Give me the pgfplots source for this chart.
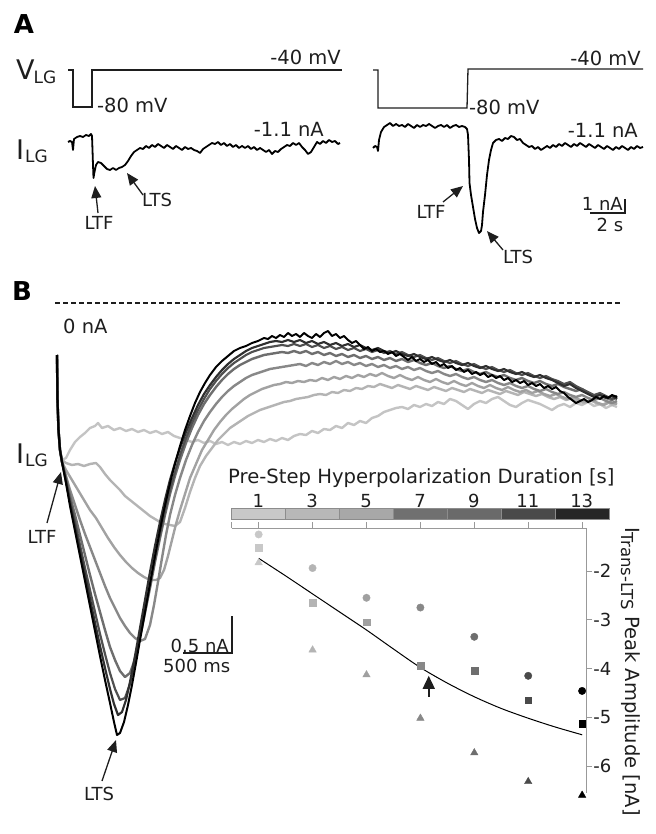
\documentclass[border=0pt]{standalone}
\usepackage{pgfplots}
\pgfplotsset{compat=1.18}
\usepackage{fontspec}
\setmainfont{DejaVu Sans}
\usetikzlibrary{arrows.meta}
\definecolor{tA}{HTML}{C4C4C4}
\definecolor{tB}{HTML}{B4B4B4}
\definecolor{tC}{HTML}{A2A2A2}
\definecolor{tD}{HTML}{888888}
\definecolor{tE}{HTML}{6E6E6E}
\definecolor{tF}{HTML}{505050}
\definecolor{tG}{HTML}{303030}
\definecolor{cbA}{HTML}{C8C8C8}
\definecolor{cbB}{HTML}{B8B8B8}
\definecolor{cbC}{HTML}{A8A8A8}
\definecolor{cbD}{HTML}{707070}
\definecolor{cbE}{HTML}{6A6A6A}
\definecolor{cbF}{HTML}{4A4A4A}
\definecolor{cbG}{HTML}{262626}
\definecolor{mA}{HTML}{C8C8C8}
\definecolor{mB}{HTML}{B4B4B4}
\definecolor{mC}{HTML}{A0A0A0}
\definecolor{mD}{HTML}{888888}
\definecolor{mE}{HTML}{6E6E6E}
\definecolor{mF}{HTML}{4A4A4A}
\definecolor{mG}{HTML}{000000}
\definecolor{txt}{HTML}{1E1E1E}
\newcommand{\fl}{\fontsize{19.5}{23}\selectfont}
\newcommand{\fsm}{\fontsize{18}{21}\selectfont}
\newcommand{\fsub}{\fontsize{17}{20}\selectfont}
\newcommand{\fbig}{\fontsize{27}{30}\selectfont}
\newcommand{\fpan}{\fontsize{26}{30}\selectfont\bfseries}
\tikzset{arr/.style={line width=1.3pt, color=txt, -{Triangle[length=12pt,width=10pt]}}}
\begin{document}
\begin{tikzpicture}
\begin{axis}[at={(0pt,0pt)},anchor=south west,scale only axis,width=655pt,height=834pt,
  xmin=0,xmax=655,ymin=0,ymax=834,y dir=reverse,hide axis,clip=false]
\addplot[draw=none] coordinates {(0,0)(655,834)};
% ---------------- Panel A ----------------
\node[anchor=center,text=black] at (axis cs:24,24) {\fpan A};
\node[anchor=base west,inner sep=0,text=txt] at (axis cs:16,80) {{\fbig V}\kern-1pt\raisebox{-4pt}{\fsub LG}};
\node[anchor=base west,inner sep=0,text=txt] at (axis cs:16,160) {{\fbig I}\kern1pt\raisebox{-3pt}{\fsub LG}};
% voltage traces
\addplot[color=txt,line width=1.3pt] coordinates {(68,70)(73,70)(73,107)(92,107)(92,70)(342,70)};
\addplot[color=txt,line width=1.3pt] coordinates {(373,70)(378,70)(378,108)(467,108)(468,69)(643,69)};
\node[anchor=base east,inner sep=0,text=txt] at (axis cs:341,65) {\fl -40 mV};
\node[anchor=base east,inner sep=0,text=txt] at (axis cs:641,66) {\fl -40 mV};
\node[anchor=base west,inner sep=0,text=txt] at (axis cs:97,113) {\fl -80 mV};
\node[anchor=base west,inner sep=0,text=txt] at (axis cs:469,115) {\fl -80 mV};
% current traces
\addplot[color=black,line width=1.8pt,line join=round] coordinates {
(68,142)(70,141)(72,142)(73,150)(74,139)(77,137)(80,136)(83,137)(86,135)(89,136)(91,134)(92,136)(92.5,150)(93,165)(93.5,178)(94.5,172)(96,165)(98,162)(101,163)(104,166)(107,169)(110,170)(113,168)(116,170)(119,168)(122,167)(125,165)(128,161)(131,156)(134,152)(137,150)(140,148)(143,149)(146,146)(149,148)(152,145)(155,147)(158,144)(161,146)(164,148)(167,145)(170,147)(173,149)(176,146)(179,148)(182,150)(185,147)(188,149)(191,148)(194,150)(197,151)(200,153)(203,149)(206,147)(209,145)(212,143)(215,144)(218,142)(221,145)(224,143)(227,146)(230,144)(233,147)(236,145)(239,148)(242,146)(245,148)(248,146)(251,149)(254,147)(257,150)(260,148)(263,150)(266,152)(269,150)(272,154)(275,151)(278,152)(281,149)(284,147)(287,145)(290,146)(293,143)(296,145)(299,143)(302,147)(305,150)(308,154)(311,152)(314,147)(317,142)(320,144)(323,141)(326,143)(329,140)(332,142)(335,141)(338,144)(340,143)};
\addplot[color=black,line width=1.8pt,line join=round] coordinates {
(373,148)(375,146)(377,147)(378,151)(379,140)(381,132)(384,127)(387,125)(390,123)(393,126)(396,124)(399,126)(402,125)(405,127)(408,124)(411,126)(414,128)(417,125)(420,127)(423,125)(426,126)(429,124)(432,126)(435,128)(438,126)(441,125)(444,127)(447,125)(450,128)(453,126)(456,125)(459,127)(462,126)(465,127)(467,129)(468,135)(469,160)(469.5,183)(471,195)(473,207)(475,219)(477,228)(479,233)(481,231)(482,225)(483,212)(485,195)(487,175)(489,160)(491,150)(493,143)(496,140)(499,139)(502,141)(505,138)(508,139)(511,136)(514,137)(517,140)(520,139)(523,143)(526,145)(529,147)(532,146)(535,149)(538,147)(541,150)(544,148)(547,146)(550,148)(553,145)(556,147)(559,144)(562,146)(565,143)(568,145)(571,147)(574,144)(577,146)(580,143)(583,145)(586,147)(589,144)(592,146)(595,148)(598,145)(601,147)(604,149)(607,146)(610,148)(613,150)(616,147)(619,149)(622,146)(625,148)(628,150)(631,147)(634,149)(637,146)(640,148)(643,147)};
\node[anchor=base east,inner sep=0,text=txt] at (axis cs:324,137) {\fl -1.1 nA};
\node[anchor=base east,inner sep=0,text=txt] at (axis cs:638,138) {\fl -1.1 nA};
\draw[arr] (axis cs:98,213) -- (axis cs:95,186);
\node[text=txt] at (axis cs:99,223) {\fsm LTF};
\draw[arr] (axis cs:143,195) -- (axis cs:127,173);
\node[text=txt] at (axis cs:157,200) {\fsm LTS};
\draw[arr] (axis cs:443,202) -- (axis cs:463,186);
\node[text=txt] at (axis cs:431,212) {\fsm LTF};
\draw[arr] (axis cs:503,250) -- (axis cs:487,231);
\node[text=txt] at (axis cs:518,257) {\fsm LTS};
% scale bar A
\draw[color=txt,line width=1.5pt] (axis cs:590,213) -- (axis cs:625,213) -- (axis cs:625,199);
\node[anchor=base east,inner sep=0,text=txt] at (axis cs:623,211) {\fsm 1 nA};
\node[text=txt] at (axis cs:610,225) {\fsm 2 s};
% ---------------- Panel B ----------------
\node[anchor=center,text=black] at (axis cs:22,291) {\fpan B};
\addplot[color=txt,line width=1.6pt,dash pattern=on 5pt off 3pt] coordinates {(55,303)(620,303)};
\node[anchor=base west,inner sep=0,text=txt] at (axis cs:63,333) {\fl 0 nA};
\node[anchor=base west,inner sep=0,text=txt] at (axis cs:16,463) {{\fbig I}\kern1pt\raisebox{-3pt}{\fsub LG}};
% T1
\addplot[color=tA,line width=2.4pt,line join=round] coordinates {
(57,355)(57.5,400)(58.5,430)(60,450)(62,460)(66,458)(70,450)(75,442)(80,437)(85,433)(90,428)(95,426)(98,423)(102,428)(108,426)(114,430)(120,428)(126,431)(132,429)(138,432)(144,430)(150,433)(156,431)(162,434)(168,432)(174,436)(180,438)(186,440)(192,442)(198,440)(204,443)(210,441)(216,444)(222,442)(228,445)(234,442)(240,444)(246,441)(252,443)(258,440)(264,442)(270,439)(276,441)(282,438)(288,440)(294,436)(300,434)(306,435)(312,431)(318,433)(324,429)(330,430)(336,426)(342,428)(348,423)(354,425)(360,421)(366,423)(372,418)(378,416)(384,412)(390,410)(396,408)(402,407)(408,409)(414,405)(420,407)(426,404)(432,406)(438,402)(444,404)(450,399)(456,401)(462,405)(468,409)(474,404)(480,401)(486,403)(492,399)(498,397)(504,401)(510,405)(516,407)(522,403)(528,400)(534,402)(540,404)(546,407)(552,410)(558,406)(564,404)(570,407)(576,403)(582,405)(588,402)(594,406)(600,404)(606,408)(612,405)(617,407)};
% T2
\addplot[color=tB,line width=2.4pt,line join=round] coordinates {
(57,355)(57.5,400)(58.5,430)(60,450)(62,460)(66,463)(72,465)(78,464)(84,466)(90,464)(96,463)(100,467)(105,474)(110,480)(115,485)(120,490)(125,496)(130,500)(135,504)(140,508)(145,512)(150,516)(155,519)(160,522)(165,524)(170,525)(175,526)(180,522)(185,508)(190,492)(195,478)(200,466)(206,456)(212,448)(218,440)(224,434)(230,428)(236,424)(242,420)(248,416)(254,413)(260,410)(266,408)(272,406)(278,404)(284,402)(290,401)(296,399)(302,398)(308,397)(314,395)(320,394)(326,395)(332,392)(338,393)(344,390)(350,391)(356,388)(362,389)(368,386)(374,387)(380,384)(386,386)(392,388)(398,385)(404,387)(410,389)(416,386)(422,388)(428,390)(434,387)(440,389)(446,391)(452,388)(458,390)(464,392)(470,389)(476,391)(482,393)(488,390)(494,392)(500,394)(506,391)(512,393)(518,395)(524,392)(530,394)(536,396)(542,394)(548,397)(554,399)(560,397)(566,400)(572,398)(578,401)(584,403)(590,400)(596,403)(602,405)(608,402)(612,405)(617,403)};
% T3
\addplot[color=tC,line width=2.4pt,line join=round] coordinates {
(57,355)(57.5,400)(58.5,430)(60,450)(62,462)(66,470)(72,480)(78,490)(84,500)(90,510)(96,518)(102,528)(108,538)(114,547)(120,555)(126,562)(132,568)(138,573)(144,577)(150,580)(156,580)(160,578)(164,570)(168,556)(172,540)(176,524)(180,510)(185,494)(190,478)(196,464)(202,450)(208,440)(214,430)(220,422)(226,415)(232,409)(238,404)(244,399)(250,395)(256,392)(262,389)(268,387)(274,385)(280,384)(286,382)(292,383)(298,381)(304,382)(310,380)(316,381)(322,378)(328,380)(334,377)(340,379)(346,376)(352,378)(358,375)(364,377)(370,374)(376,376)(382,373)(388,376)(394,378)(400,375)(406,378)(412,380)(418,377)(424,380)(430,382)(436,379)(442,382)(448,384)(454,381)(460,384)(466,386)(472,383)(478,386)(484,388)(490,385)(496,388)(502,390)(508,387)(514,390)(520,392)(526,390)(532,393)(538,391)(544,394)(550,396)(556,394)(562,397)(568,399)(574,397)(580,400)(586,402)(592,400)(598,403)(604,405)(610,402)(617,404)};
% T4
\addplot[color=tD,line width=2.4pt,line join=round] coordinates {
(57,355)(57.5,400)(58.5,430)(60,450)(62,462)(66,476)(70,490)(75,505)(80,520)(85,534)(90,547)(95,560)(100,573)(105,586)(110,598)(115,608)(120,618)(125,626)(130,633)(135,638)(140,641)(145,639)(150,625)(154,605)(158,582)(162,558)(166,535)(170,515)(175,495)(180,478)(186,460)(192,445)(198,432)(204,421)(210,412)(216,404)(222,397)(228,391)(234,386)(240,382)(246,378)(252,375)(258,373)(264,371)(270,369)(276,368)(282,367)(288,366)(294,365)(300,364)(306,366)(312,363)(318,365)(324,362)(330,364)(336,361)(342,364)(348,362)(354,365)(360,363)(366,366)(372,364)(378,367)(384,365)(390,368)(396,366)(402,369)(408,367)(414,370)(420,368)(426,371)(432,373)(438,371)(444,374)(450,376)(456,374)(462,377)(468,379)(474,377)(480,380)(486,382)(492,380)(498,383)(504,385)(510,383)(516,386)(522,388)(528,386)(534,389)(540,391)(546,389)(552,392)(558,394)(564,392)(570,395)(576,397)(582,395)(588,398)(594,400)(600,398)(606,401)(612,403)(617,401)};
% T5
\addplot[color=tE,line width=2.4pt,line join=round] coordinates {
(57,355)(57.5,400)(58.5,430)(60,450)(62,462)(66,478)(70,496)(75,515)(80,535)(85,555)(90,575)(95,594)(100,612)(105,630)(110,647)(115,660)(120,671)(125,677)(130,673)(134,662)(138,646)(142,628)(146,608)(150,588)(155,562)(160,538)(165,515)(170,494)(175,476)(180,460)(186,443)(192,428)(198,415)(204,404)(210,395)(216,387)(222,380)(228,374)(234,369)(240,365)(246,362)(252,359)(258,357)(264,355)(270,354)(276,353)(282,352)(288,353)(294,351)(300,353)(306,351)(312,354)(318,352)(324,355)(330,353)(336,356)(342,354)(348,357)(354,355)(360,358)(366,356)(372,359)(378,357)(384,360)(390,358)(396,361)(402,359)(408,362)(414,360)(420,363)(426,365)(432,363)(438,366)(444,368)(450,366)(456,369)(462,371)(468,369)(474,372)(480,374)(486,372)(492,375)(498,377)(504,375)(510,378)(516,380)(522,378)(528,381)(534,383)(540,381)(546,384)(552,386)(558,384)(564,387)(570,389)(576,391)(582,389)(588,393)(594,396)(600,394)(606,398)(612,400)(617,397)};
% T6
\addplot[color=tF,line width=2.2pt,line join=round] coordinates {
(57,355)(57.5,400)(58.5,430)(60,450)(62,462)(66,480)(70,500)(75,522)(80,545)(85,568)(90,590)(95,612)(100,634)(105,654)(110,673)(115,689)(120,700)(125,698)(130,684)(135,662)(140,636)(145,610)(150,584)(155,558)(160,534)(165,511)(170,490)(175,472)(180,455)(186,438)(192,423)(198,410)(204,399)(210,389)(216,381)(222,374)(228,368)(234,363)(240,359)(246,355)(252,352)(258,350)(264,348)(270,347)(276,346)(282,345)(288,346)(294,344)(300,346)(306,344)(312,347)(318,345)(324,348)(330,346)(336,349)(342,347)(348,350)(354,348)(360,351)(366,349)(372,352)(378,350)(384,353)(390,351)(396,354)(402,352)(408,355)(414,357)(420,355)(426,358)(432,360)(438,358)(444,361)(450,363)(456,361)(462,364)(468,366)(474,364)(480,367)(486,369)(492,367)(498,370)(504,372)(510,370)(516,373)(522,375)(528,373)(534,376)(540,378)(546,376)(552,379)(558,381)(564,384)(570,382)(576,386)(582,389)(588,392)(594,395)(600,393)(606,396)(612,399)(617,396)};
% T7
\addplot[color=tG,line width=2.2pt,line join=round] coordinates {
(57,355)(57.5,400)(58.5,430)(60,450)(62,462)(66,482)(70,503)(75,527)(80,551)(85,575)(90,599)(95,623)(100,646)(105,668)(110,689)(114,704)(118,715)(122,712)(126,700)(130,682)(135,656)(140,628)(145,600)(150,572)(155,546)(160,522)(165,500)(170,480)(175,463)(180,448)(186,432)(192,418)(198,405)(204,394)(210,385)(216,377)(222,370)(228,364)(234,359)(240,355)(246,351)(252,348)(258,346)(264,344)(270,342)(276,341)(282,342)(288,340)(294,342)(300,340)(306,343)(312,341)(318,344)(324,342)(330,345)(336,343)(342,346)(348,344)(354,347)(360,345)(366,348)(372,350)(378,348)(384,351)(390,353)(396,351)(402,354)(408,356)(414,354)(420,357)(426,359)(432,357)(438,360)(444,362)(450,360)(456,363)(462,365)(468,363)(474,366)(480,368)(486,366)(492,369)(498,371)(504,369)(510,372)(516,374)(522,372)(528,375)(534,377)(540,375)(546,378)(552,380)(558,383)(564,386)(570,384)(576,388)(582,391)(588,394)(594,397)(600,395)(606,398)(612,396)(617,399)};
% T8
\addplot[color=black,line width=2.0pt,line join=round] coordinates {
(57,355)(57.5,400)(58.5,430)(60,450)(62,462)(66,483)(70,506)(75,531)(80,556)(85,581)(90,606)(95,631)(100,656)(105,680)(110,703)(114,722)(117,735)(120,733)(124,722)(128,705)(132,685)(136,663)(140,640)(145,612)(150,584)(155,556)(160,530)(164,510)(168,492)(172,475)(176,460)(180,446)(185,430)(190,416)(195,403)(200,392)(205,383)(210,375)(216,367)(222,361)(228,356)(234,351)(240,348)(246,346)(252,343)(258,341)(264,338)(268,339)(272,336)(276,338)(280,335)(284,337)(288,333)(292,336)(296,334)(300,337)(304,333)(308,336)(312,338)(316,334)(320,337)(324,333)(328,331)(332,336)(336,334)(340,338)(344,336)(348,340)(352,343)(356,341)(360,345)(364,349)(368,347)(372,351)(376,349)(380,352)(384,351)(388,354)(392,352)(396,356)(400,354)(404,357)(408,360)(412,357)(416,361)(420,359)(424,362)(428,360)(432,364)(436,362)(440,366)(444,364)(448,368)(452,366)(456,370)(460,368)(464,372)(468,370)(472,374)(476,372)(480,375)(484,373)(488,377)(492,375)(496,378)(500,376)(504,380)(508,378)(512,382)(516,380)(520,383)(524,381)(528,385)(532,383)(536,386)(540,384)(544,388)(548,386)(552,389)(556,387)(560,391)(564,393)(568,397)(572,400)(576,403)(580,401)(584,399)(588,402)(592,400)(596,397)(600,399)(604,396)(608,398)(612,395)(617,397)};
\draw[arr] (axis cs:47,523) -- (axis cs:61,472);
\node[text=txt] at (axis cs:42,537) {\fsm LTF};
\draw[arr] (axis cs:102,781) -- (axis cs:116,740);
\node[text=txt] at (axis cs:99,794) {\fsm LTS};
% scale bar B
\draw[color=txt,line width=1.5pt] (axis cs:183,653) -- (axis cs:232,653) -- (axis cs:232,616);
\node[anchor=base east,inner sep=0,text=txt] at (axis cs:229,652) {\fsm 0.5 nA};
\node[anchor=base west,inner sep=0,text=txt] at (axis cs:163,672) {\fsm 500 ms};
% colour bar title and numbers
\node[anchor=base west,inner sep=0,text=txt] at (axis cs:228,483) {\fontsize{19.6}{23}\selectfont Pre-Step Hyperpolarization Duration [s]};
\node[anchor=base,inner sep=0,text=txt] at (axis cs:258.3,507) {\fsm 1};
\node[anchor=base,inner sep=0,text=txt] at (axis cs:312.2,507) {\fsm 3};
\node[anchor=base,inner sep=0,text=txt] at (axis cs:366.1,507) {\fsm 5};
\node[anchor=base,inner sep=0,text=txt] at (axis cs:420.0,507) {\fsm 7};
\node[anchor=base,inner sep=0,text=txt] at (axis cs:473.9,507) {\fsm 9};
\node[anchor=base,inner sep=0,text=txt] at (axis cs:527.8,507) {\fsm 11};
\node[anchor=base,inner sep=0,text=txt] at (axis cs:581.7,507) {\fsm 13};
\node[rotate=-90,anchor=base west,inner sep=0,text=txt] at (axis cs:625,527) {{\fl I}\raisebox{-4pt}{\fontsize{16.5}{19}\selectfont Trans-LTS}{\fl\ Peak Amplitude [nA]}};
\end{axis}
% ---------------- Inset scatter ----------------
\begin{axis}[at={(231.7pt,41pt)},anchor=south west,scale only axis,width=355pt,height=265pt,
  xmin=0,xmax=13.17,ymin=-6.554,ymax=-1.118,
  axis x line*=top, axis y line*=right,
  axis line style={draw=black!40,line width=0.8pt},
  xtick={0,1,3,5,7,9,11,13}, xticklabels={},
  ytick={-6,-5,-4,-3,-2}, yticklabels={-6,-5,-4,-3,-2},
  tick align=outside, major tick length=5.5pt,
  every tick/.style={draw=black!40,line width=0.8pt},
  yticklabel style={font=\fsm,text=txt,inner xsep=1pt},
  clip=false]
\addplot[fill=cbA,draw=black!45,line width=0.5pt] coordinates {(0,-0.933)(2,-0.933)(2,-0.708)(0,-0.708)} --cycle;
\addplot[fill=cbB,draw=black!45,line width=0.5pt] coordinates {(2,-0.933)(4,-0.933)(4,-0.708)(2,-0.708)} --cycle;
\addplot[fill=cbC,draw=black!45,line width=0.5pt] coordinates {(4,-0.933)(6,-0.933)(6,-0.708)(4,-0.708)} --cycle;
\addplot[fill=cbD,draw=black!45,line width=0.5pt] coordinates {(6,-0.933)(8,-0.933)(8,-0.708)(6,-0.708)} --cycle;
\addplot[fill=cbE,draw=black!45,line width=0.5pt] coordinates {(8,-0.933)(10,-0.933)(10,-0.708)(8,-0.708)} --cycle;
\addplot[fill=cbF,draw=black!45,line width=0.5pt] coordinates {(10,-0.933)(12,-0.933)(12,-0.708)(10,-0.708)} --cycle;
\addplot[fill=cbG,draw=black!45,line width=0.5pt] coordinates {(12,-0.933)(14,-0.933)(14,-0.708)(12,-0.708)} --cycle;
% fit line
\addplot[black,line width=1pt,smooth] coordinates {(1,-1.74)(2,-2.10)(3,-2.47)(4,-2.84)(5,-3.21)(6,-3.60)(7,-3.98)(8,-4.30)(9,-4.58)(10,-4.82)(11,-5.02)(12,-5.20)(13,-5.36)};
% circles
\addplot[only marks,mark=*,mark size=3.7pt,scatter,scatter src=explicit symbolic,
  scatter/classes={a={draw=mA,fill=mA},b={draw=mB,fill=mB},c={draw=mC,fill=mC},d={draw=mD,fill=mD},e={draw=mE,fill=mE},f={draw=mF,fill=mF},g={draw=mG,fill=mG}}]
  table[meta=c] {
x y c
1 -1.25 a
3 -1.94 b
5 -2.55 c
7 -2.75 d
9 -3.35 e
11 -4.15 f
13 -4.46 g
};
% squares
\addplot[only marks,mark=square*,mark size=3.4pt,scatter,scatter src=explicit symbolic,
  scatter/classes={a={draw=mA,fill=mA},b={draw=mB,fill=mB},c={draw=mC,fill=mC},d={draw=mD,fill=mD},e={draw=mE,fill=mE},f={draw=mF,fill=mF},g={draw=mG,fill=mG}}]
  table[meta=c] {
x y c
1 -1.53 a
3 -2.65 b
5 -3.05 c
7 -3.94 d
9 -4.05 e
11 -4.65 f
13 -5.14 g
};
% triangles
\addplot[only marks,mark=triangle*,mark size=4.3pt,scatter,scatter src=explicit symbolic,
  scatter/classes={a={draw=mA,fill=mA},b={draw=mB,fill=mB},c={draw=mC,fill=mC},d={draw=mD,fill=mD},e={draw=mE,fill=mE},f={draw=mF,fill=mF},g={draw=mG,fill=mG}}]
  table[meta=c] {
x y c
1 -1.83 a
3 -3.62 b
5 -4.13 c
7 -5.02 d
9 -5.73 e
11 -6.32 f
13 -6.60 g
};
\draw[line width=1.5pt,color=txt,-{Triangle[length=13pt,width=12pt]}] (axis cs:7.31,-4.58) -- (axis cs:7.31,-4.15);
\end{axis}
\end{tikzpicture}
\end{document}
